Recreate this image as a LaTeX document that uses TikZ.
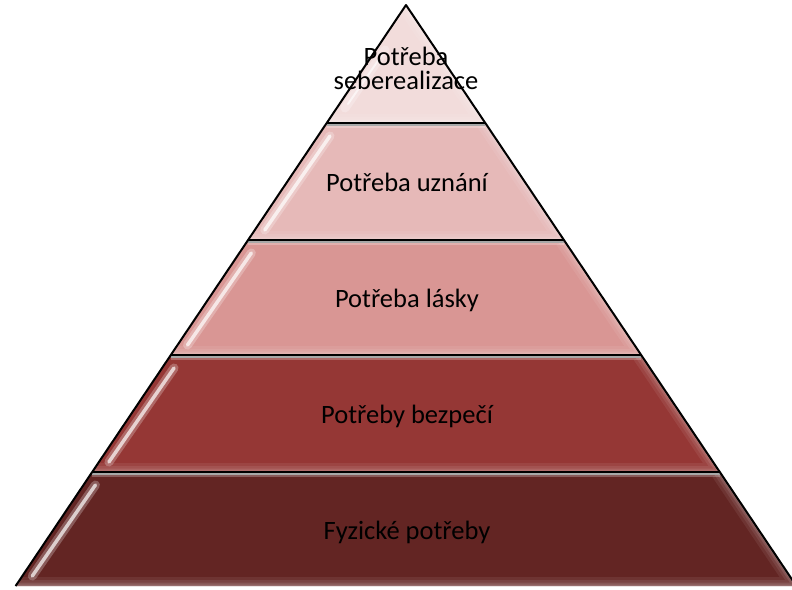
\documentclass[tikz,border=0pt]{standalone}
\usepackage{fontspec}
\setmainfont{Carlito}
\definecolor{cA}{HTML}{F2DCDB}
\definecolor{cB}{HTML}{E6B9B8}
\definecolor{cC}{HTML}{D99694}
\definecolor{cD}{HTML}{953735}
\definecolor{cE}{HTML}{632523}
\tikzset{
  lvltext/.style={font=\fontsize{26.5}{24}\selectfont, text=black, anchor=base, inner sep=0pt, align=center},
  outline/.style={draw=black, line width=2pt, line join=round},
  sepline/.style={draw=black, line width=2pt},
  glint/.style={white, line width=3.5pt, line cap=round, opacity=0.7},
  glow/.style={white, line width=9pt, line cap=round, opacity=0.25},
}
\newcommand\pyrband[3]{%
  \pgfmathsetmacro\xa{406-0.672*(#1-5)}%
  \pgfmathsetmacro\xb{406+0.672*(#1-5)}%
  \pgfmathsetmacro\xc{406+0.672*(#2-5)}%
  \pgfmathsetmacro\xd{406-0.672*(#2-5)}%
  \pgfmathsetmacro\ga{406-0.672*(#1+13-5)+12}%
  \pgfmathsetmacro\gb{406-0.672*(#2-10-5)+10}%
  \begin{scope}
    \clip (\xa,#1) -- (\xb,#1) -- (\xc,#2) -- (\xd,#2) -- cycle;
    \fill[#3] (0,#1-1) rectangle (792,#2+1);
    \foreach \ww/\oo in {18/0.07, 12/0.08, 7/0.1, 3/0.14}{
      \draw[white, opacity=\oo, line width=\ww pt] (\xb,#1) -- (\xc,#2) -- (\xd,#2);
    }
    \draw[black!45, line width=5pt] (\xa,#1) -- (\xb,#1);
    \draw[white, opacity=0.25, line width=9pt] (\xa,#1) -- (\xb,#1);
    \draw[glow] (\ga,#1+13) -- (\gb,#2-10);
    \draw[glint] (\ga,#1+13) -- (\gb,#2-10);
  \end{scope}
}
\begin{document}
\begin{tikzpicture}[x=1pt,y=-1pt]
  \useasboundingbox (0,0) rectangle (792,589);
  % top triangle
  \begin{scope}
    \clip (406,5) -- (485.3,123) -- (326.7,123) -- cycle;
    \fill[cA] (300,0) rectangle (500,124);
    \foreach \ww/\oo in {18/0.07, 12/0.08, 7/0.1, 3/0.14}{
      \draw[white, opacity=\oo, line width=\ww pt] (406,5) -- (485.3,123) -- (326.7,123);
    }
    \draw[glow] (385,50) -- (345,108);
    \draw[white, opacity=0.6, line width=2pt, line cap=round] (382,55) -- (348,104);
  \end{scope}
  \pyrband{123}{240}{cB}
  \pyrband{240}{355}{cC}
  \pyrband{355}{472}{cD}
  \pyrband{472}{586}{cE}
  % outline and separators
  \coordinate (apex) at (406,5);
  \coordinate (bl) at (15.6,586);
  \coordinate (br) at (796.4,586);
  \coordinate (l1) at (326.7,123);  \coordinate (r1) at (485.3,123);
  \coordinate (l2) at (248.1,240);  \coordinate (r2) at (563.9,240);
  \coordinate (l3) at (170.8,355);  \coordinate (r3) at (641.2,355);
  \coordinate (l4) at (92.2,472);   \coordinate (r4) at (719.8,472);
  \draw[outline] (bl) -- (apex) -- (br);
  \draw[sepline] (l1) -- (r1);
  \draw[sepline] (l2) -- (r2);
  \draw[sepline] (l3) -- (r3);
  \draw[sepline] (l4) -- (r4);
  % labels
  \node[lvltext] (t1) at (406,89.5) {Potřeba\\seberealizace};
  \node[lvltext] (t2) at (407,191) {Potřeba uznání};
  \node[lvltext] (t3) at (407,307) {Potřeba lásky};
  \node[lvltext] (t4) at (407,423) {Potřeby bezpečí};
  \node[lvltext] (t5) at (407,539) {Fyzické potřeby};
\end{tikzpicture}
\end{document}
